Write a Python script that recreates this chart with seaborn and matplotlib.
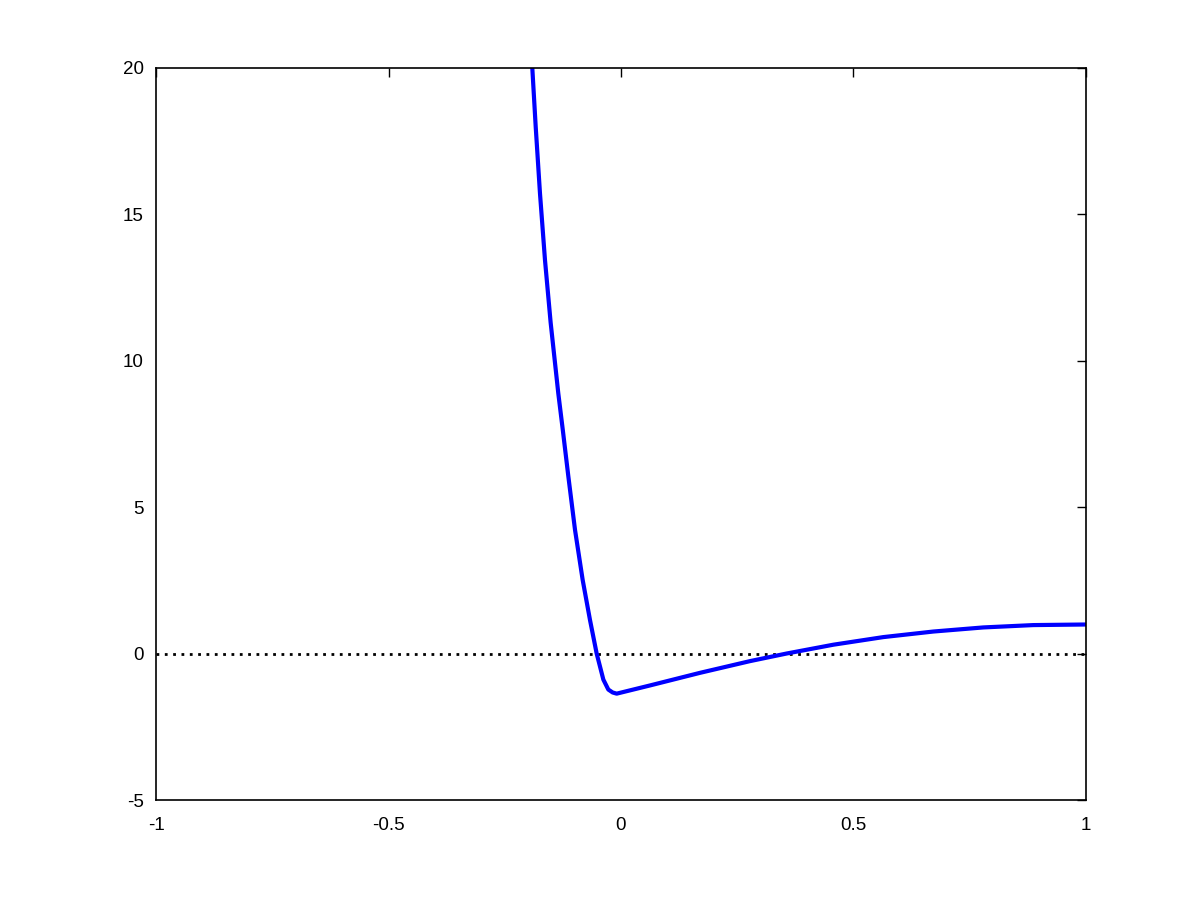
import seaborn as sns
import matplotlib.pyplot as plt

# valores
x_curva = [-0.1910, -0.1836, -0.1744, -0.1636, -0.1515, -0.1350, -0.1253,
           -0.1134, -0.0990, -0.0825, -0.0667, -0.0524, -0.0380, -0.0273,
           -0.0180, -0.0093, 0.0624, 0.1700, 0.2777, 0.3567, 0.4570, 0.5647,
           0.6724, 0.7800, 0.8876, 1.0000]
y_curva = [20.0, 17.97, 15.70, 13.42, 11.30, 8.88, 7.63,
           6.05, 4.22, 2.51, 1.14, 0.0, -0.89, -1.23,
           -1.33, -1.37, -1.09, -0.66, -0.26, 0.0, 0.30, 0.56,
           0.75, 0.89, 0.97, 0.99]

x_zero = [-1, 1]    # linha pontilhada em y = 0
y_zero = [0, 0]

x_ticks = [-1, -0.5, 0, 0.5, 1]
x_labels = ['-1', '-0.5', '0', '0.5', '1']
y_ticks = [-5, 0, 5, 10, 15, 20]
y_labels = ['-5', '0', '5', '10', '15', '20']


def grafico():
    sns.set_style('white')
    plt.rcParams['font.family'] = ['Liberation Sans', 'DejaVu Sans']

    fig = plt.figure(figsize=(12, 9), dpi=100)
    ax = fig.add_axes([0.1304, 0.1111, 0.7742, 0.8139])

    sns.lineplot(x=x_zero, y=y_zero, ax=ax, color='black', linewidth=2,
                 linestyle=(0, (1.0, 2.0)))
    sns.lineplot(x=x_curva, y=y_curva, ax=ax, color='#0000ff', linewidth=3)

    ax.set_xlim(-1, 1)
    ax.set_ylim(-5, 20)
    ax.set_xticks(x_ticks)
    ax.set_xticklabels(x_labels)
    ax.set_yticks(y_ticks)
    ax.set_yticklabels(y_labels)
    ax.tick_params(axis='both', direction='in', length=6.5, width=1,
                   top=True, right=True, labelsize=13.5, colors='black')
    ax.tick_params(axis='x', pad=12)
    ax.tick_params(axis='y', pad=9)
    for lado in ax.spines.values():
        lado.set_color('black')
        lado.set_linewidth(1.2)

    fig.savefig('out.png', dpi=100)


if __name__ == "__main__":
    grafico()
